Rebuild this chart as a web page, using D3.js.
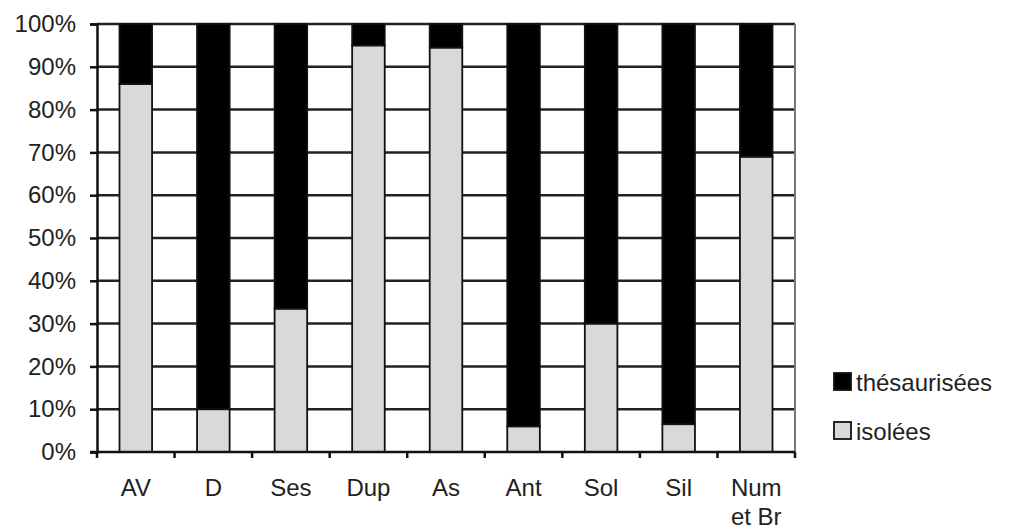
<!DOCTYPE html>
<html><head><meta charset="utf-8">
<script src="https://cdn.jsdelivr.net/npm/d3@7"></script>
<style>body{margin:0;background:#fff}svg{display:block}text{font-family:"Liberation Sans",Arial,sans-serif;fill:#222}</style>
</head><body><svg id="c" width="1011" height="531"></svg>
<script>
const categories = ["AV","D","Ses","Dup","As","Ant","Sol","Sil","Num et Br"];
const isolees = [86, 10, 33.5, 95, 94.5, 6, 30, 6.5, 69];
const thesaurisees = isolees.map(v => 100 - v);
const yTicks = [0,10,20,30,40,50,60,70,80,90,100];
const seriesNames = ["thésaurisées","isolées"];
const colors = {"thésaurisées":"#000000","isolées":"#d9d9d9"};

const svg = d3.select("#c");
const L=97,R=795,T=24,B=452;
const x = d3.scaleBand().domain(categories).range([L,R]).padding(0);
const y = d3.scaleLinear().domain([0,100]).range([B,T]);
const bw = x.bandwidth()*0.42;

// gridlines
svg.append("g").selectAll("line").data(yTicks.filter(d=>d>0)).join("line")
  .attr("x1",L).attr("x2",R).attr("y1",d=>y(d)).attr("y2",d=>y(d))
  .attr("stroke","#222").attr("stroke-width",2.5);
// right frame
svg.append("line").attr("x1",R).attr("x2",R).attr("y1",T).attr("y2",B).attr("stroke","#777").attr("stroke-width",2);

// bars
const data = categories.map((c,i)=>({c, iso:isolees[i], the:thesaurisees[i]}));
const g = svg.append("g");
g.selectAll("rect.iso").data(data).join("rect").attr("class","iso")
  .attr("x",d=>x(d.c)+x.bandwidth()/2-bw/2).attr("width",bw)
  .attr("y",d=>y(d.iso)).attr("height",d=>B-y(d.iso))
  .attr("fill",colors["isolées"]).attr("stroke","#111").attr("stroke-width",1.8);
g.selectAll("rect.the").data(data).join("rect").attr("class","the")
  .attr("x",d=>x(d.c)+x.bandwidth()/2-bw/2).attr("width",bw)
  .attr("y",y(100)).attr("height",d=>y(d.iso)-y(100))
  .attr("fill",colors["thésaurisées"]).attr("stroke","#111").attr("stroke-width",1.8);

// y axis
const ya = svg.append("g").attr("transform",`translate(${L},0)`)
  .call(d3.axisLeft(y).tickValues(yTicks).tickFormat(d=>d+"%").tickSize(7).tickPadding(14));
ya.select(".domain").attr("stroke","#111").attr("stroke-width",2.5);
ya.selectAll(".tick line").attr("stroke","#111").attr("stroke-width",2.5);
ya.selectAll(".tick text").attr("font-size",24).attr("fill","#222").attr("font-family","Liberation Sans, Arial, sans-serif");

// x axis
const xa = svg.append("g").attr("transform",`translate(0,${B})`);
xa.append("line").attr("x1",L-7).attr("x2",R).attr("y1",0).attr("y2",0).attr("stroke","#111").attr("stroke-width",2.5);
const bounds = categories.map(c=>x(c)).concat([R]);
xa.selectAll("line.t").data(bounds).join("line").attr("class","t")
  .attr("x1",d=>d).attr("x2",d=>d).attr("y1",0).attr("y2",6).attr("stroke","#111").attr("stroke-width",2.5);
const lab = xa.selectAll("text").data(categories).join("text")
  .attr("x",c=>x(c)+x.bandwidth()/2).attr("y",44).attr("text-anchor","middle").attr("font-size",24);
lab.each(function(c){
  const parts = c==="Num et Br" ? ["Num","et Br"] : [c];
  const t=d3.select(this);
  parts.forEach((p,i)=>t.append("tspan").attr("x",x(c)+x.bandwidth()/2).attr("dy",i?29:0).text(p));
});

// legend
const lg = svg.append("g");
seriesNames.forEach((s,i)=>{
  const yy = 373 + i*49;
  lg.append("rect").attr("x",834).attr("y",yy).attr("width",17).attr("height",17)
    .attr("fill",colors[s]).attr("stroke","#111").attr("stroke-width",1.8);
  lg.append("text").attr("x",856).attr("y",yy+18).attr("font-size",24).text(s);
});
</script></body></html>
